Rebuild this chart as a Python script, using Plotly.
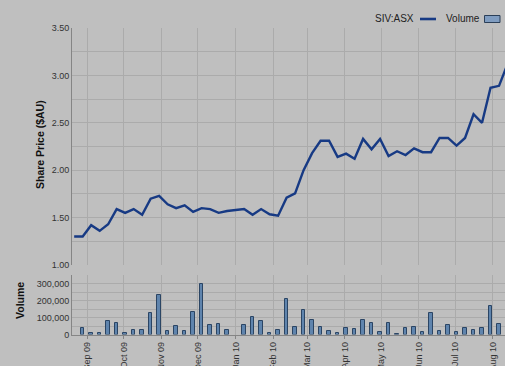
import plotly.graph_objects as go

# Weekly closing share price and traded volume, SIV:ASX
week_ending = [
    "2009-08-21", "2009-08-28",
    "2009-09-04", "2009-09-11", "2009-09-18", "2009-09-25",
    "2009-10-02", "2009-10-09", "2009-10-16", "2009-10-23", "2009-10-30",
    "2009-11-06", "2009-11-13", "2009-11-20", "2009-11-27",
    "2009-12-04", "2009-12-11", "2009-12-18", "2009-12-25",
    "2010-01-01", "2010-01-08", "2010-01-15", "2010-01-22", "2010-01-29",
    "2010-02-05", "2010-02-12", "2010-02-19", "2010-02-26",
    "2010-03-05", "2010-03-12", "2010-03-19", "2010-03-26",
    "2010-04-02", "2010-04-09", "2010-04-16", "2010-04-23", "2010-04-30",
    "2010-05-07", "2010-05-14", "2010-05-21", "2010-05-28",
    "2010-06-04", "2010-06-11", "2010-06-18", "2010-06-25",
    "2010-07-02", "2010-07-09", "2010-07-16", "2010-07-23", "2010-07-30",
    "2010-08-06", "2010-08-13",
]

share_price = [
    1.30, 1.30,
    1.42, 1.36, 1.43, 1.59,
    1.55, 1.59, 1.53, 1.70, 1.73,
    1.64, 1.60, 1.63, 1.56,
    1.60, 1.59, 1.55, 1.57,
    1.58, 1.59, 1.53, 1.59, 1.535,
    1.52, 1.71, 1.755, 2.00,
    2.18, 2.31, 2.31, 2.14,
    2.175, 2.12, 2.33, 2.22, 2.33,
    2.15, 2.20, 2.16, 2.23,
    2.19, 2.19, 2.34, 2.34,
    2.26, 2.34, 2.59, 2.50, 2.87,
    2.89, 3.12,
]

volume = [
    None, 36000,
    10000, 10000, 78000, 66000,
    9000, 24000, 24000, 126000, 234000,
    20000, 50000, 20000, 132000,
    297000, 56000, 62000, 24000,
    None, 56000, 102000, 78000, 6000,
    24000, 210000, 46000, 146000,
    84000, 46000, 20000, 7000,
    36000, 30000, 84000, 68000, 12000,
    68000, 2000, 36000, 42000,
    14000, 126000, 20000, 56000,
    14000, 36000, 24000, 36000, 168000,
    62000, None,
]

W, H = 505, 366
BG = "#bfbfbf"
GRID = "#ababab"
AXIS = "#858585"
TEXT = "#333333"
LINE = "#173a84"
BAR_FILL = "#5f84ad"
BAR_EDGE = "#2b4564"
FONT = "Liberation Sans, Arial, sans-serif"


def px_x(p):
    return p / W


def px_y(p):
    return 1 - p / H


fig = go.Figure()

fig.add_trace(go.Scatter(
    x=week_ending, y=share_price, mode="lines",
    line=dict(color=LINE, width=2.4),
    xaxis="x", yaxis="y", showlegend=False,
))

fig.add_trace(go.Bar(
    x=week_ending, y=volume,
    width=2.9 * 86400000,
    marker=dict(color=BAR_FILL, line=dict(color=BAR_EDGE, width=1)),
    xaxis="x2", yaxis="y2", showlegend=False,
))

x_range = ["2009-08-19 05:00", "2010-08-10 22:00"]
x_dom = [px_x(72), 1.0]

common_x = dict(
    type="date", range=x_range, domain=x_dom,
    tick0="2009-09-01", dtick="M1",
    showgrid=True, gridcolor=GRID, gridwidth=1,
    zeroline=False, automargin=False,
)

fig.update_layout(
    width=W, height=H,
    margin=dict(l=0, r=0, t=0, b=0),
    paper_bgcolor=BG, plot_bgcolor=BG,
    font=dict(family=FONT, size=9, color=TEXT),
    bargap=0,
    xaxis=dict(**common_x, anchor="y", showticklabels=False, ticks=""),
    xaxis2=dict(
        **common_x, anchor="y2", matches="x",
        showticklabels=True, tickformat="%b %y", tickangle=-90,
        ticks="outside", ticklen=3, tickcolor=AXIS,
        showline=True, linecolor=AXIS, linewidth=1,
        tickfont=dict(size=9, color=TEXT),
    ),
    yaxis=dict(
        domain=[px_y(265), px_y(28)], anchor="x",
        range=[1.0, 3.5], dtick=0.5, tick0=1.0, tickformat=".2f",
        showgrid=True, gridcolor=GRID, zeroline=False, automargin=False,
        showline=True, linecolor=AXIS, linewidth=1,
        ticks="", tickfont=dict(size=9, color=TEXT),
        minor=dict(dtick=0.25, tick0=1.0, showgrid=True, gridcolor=GRID),
    ),
    yaxis2=dict(
        domain=[px_y(334.5), px_y(275)], anchor="x2",
        range=[0, 350000], dtick=100000, tick0=0, tickformat=",",
        showgrid=True, gridcolor=GRID, zeroline=False, automargin=False,
        showline=True, linecolor=AXIS, linewidth=1,
        ticks="", tickfont=dict(size=9, color=TEXT),
        minor=dict(dtick=50000, tick0=0, showgrid=True, gridcolor=GRID),
    ),
)

# Axis titles
fig.add_annotation(
    x=px_x(40), y=px_y(145), xref="paper", yref="paper",
    text="<b>Share Price ($AU)</b>", textangle=-90, showarrow=False,
    font=dict(family=FONT, size=10.5, color="#111111"),
    xanchor="center", yanchor="middle",
)
fig.add_annotation(
    x=px_x(20), y=px_y(301), xref="paper", yref="paper",
    text="<b>Volume</b>", textangle=-90, showarrow=False,
    font=dict(family=FONT, size=10.5, color="#111111"),
    xanchor="center", yanchor="middle",
)

# Legend, text followed by its key
fig.add_annotation(
    x=px_x(416), y=px_y(19), xref="paper", yref="paper",
    text="SIV:ASX", showarrow=False, xanchor="right", yanchor="middle",
    font=dict(family=FONT, size=10, color="#222222"),
)
fig.add_shape(
    type="line", xref="paper", yref="paper",
    x0=px_x(420), x1=px_x(436), y0=px_y(19), y1=px_y(19),
    line=dict(color=LINE, width=2.6),
)
fig.add_annotation(
    x=px_x(482), y=px_y(19), xref="paper", yref="paper",
    text="Volume", showarrow=False, xanchor="right", yanchor="middle",
    font=dict(family=FONT, size=10, color="#222222"),
)
fig.add_shape(
    type="rect", xref="paper", yref="paper",
    x0=px_x(484.5), x1=px_x(500), y0=px_y(22.5), y1=px_y(15.5),
    fillcolor="#7f9cc0", line=dict(color="#2b3f58", width=1),
)

fig.write_html("out.html")
